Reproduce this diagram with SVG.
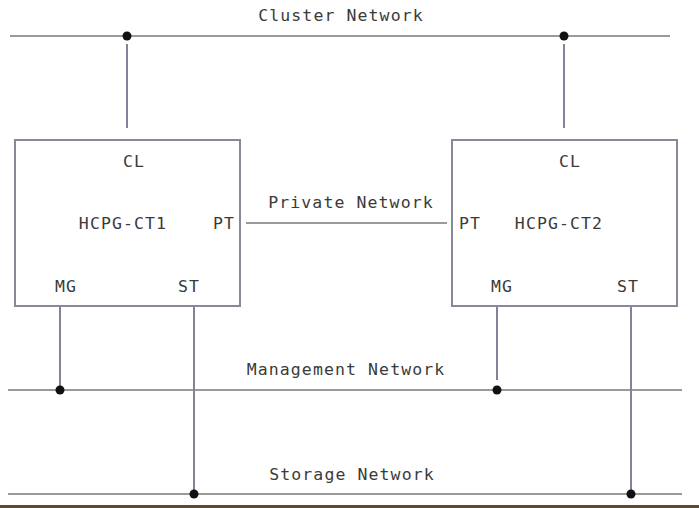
<svg xmlns="http://www.w3.org/2000/svg" width="699" height="508" viewBox="0 0 699 508">
<style>
text{font-family:"DejaVu Sans Mono","Liberation Mono",monospace;font-size:16.5px;fill:#3a3a3a;letter-spacing:1.1px;text-anchor:middle}
.net{stroke:#9a9a9a;stroke-width:2;fill:none}
.link{stroke:#85819a;stroke-width:2;fill:none}
.box{stroke:#8a879a;stroke-width:2;fill:#fff}
.dot{fill:#111}
</style>
<rect width="699" height="508" fill="#fff"/>
<g id="connectors">
<line class="net" x1="10" y1="36" x2="670" y2="36"/>
<line class="net" x1="8" y1="390" x2="682" y2="390"/>
<line class="net" x1="8" y1="494" x2="682" y2="494"/>
<line class="link" x1="127" y1="44" x2="127" y2="128"/>
<line class="link" x1="564" y1="44" x2="564" y2="128"/>
<line class="net" x1="246" y1="223" x2="447" y2="223"/>
<line class="link" x1="60" y1="306" x2="60" y2="390"/>
<line class="link" x1="194" y1="306" x2="194" y2="494"/>
<line class="link" x1="497" y1="306" x2="497" y2="380"/>
<line class="link" x1="631" y1="306" x2="631" y2="494"/>
<circle class="dot" cx="127" cy="36" r="4.5"/>
<circle class="dot" cx="564" cy="36" r="4.5"/>
<circle class="dot" cx="60" cy="390" r="4.5"/>
<circle class="dot" cx="497" cy="390" r="4.5"/>
<circle class="dot" cx="194" cy="494" r="4.5"/>
<circle class="dot" cx="631" cy="494" r="4.5"/>
</g>
<g id="labels">
<text x="341" y="21">Cluster Network</text>
<text x="351" y="208">Private Network</text>
<text x="346" y="375">Management Network</text>
<text x="352" y="480">Storage Network</text>
</g>
<g id="hcpg-ct1">
<rect class="box" x="15" y="140" width="225" height="166"/>
<text x="134" y="167">CL</text>
<text x="123" y="229">HCPG-CT1</text>
<text x="224" y="229">PT</text>
<text x="66" y="292">MG</text>
<text x="189" y="292">ST</text>
</g>
<g id="hcpg-ct2">
<rect class="box" x="452" y="140" width="225" height="166"/>
<text x="570" y="167">CL</text>
<text x="559" y="229">HCPG-CT2</text>
<text x="470" y="229">PT</text>
<text x="502" y="292">MG</text>
<text x="628" y="292">ST</text>
</g>
<rect x="0" y="505" width="699" height="3" fill="#5e4a2c"/>
</svg>
